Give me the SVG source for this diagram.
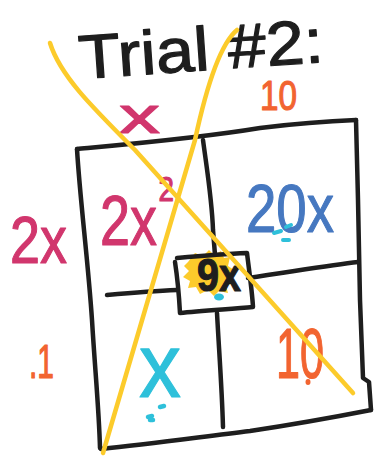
<svg xmlns="http://www.w3.org/2000/svg" width="375" height="456" viewBox="0 0 375 456">
<style>
.ink{fill:none;stroke:#1e1e1e;stroke-width:4.5;stroke-linecap:round;stroke-linejoin:round}
.hl{fill:none;stroke:#fccb2b;stroke-width:4.5;stroke-linecap:round;stroke-linejoin:round}
.t{font-family:"Liberation Sans",Arial,sans-serif;stroke-width:1.2;stroke-linejoin:round}
.mag{fill:#d1366d;stroke:#d1366d}
.org{fill:#f26430;stroke:#f26430}
.blu{fill:#4678c0;stroke:#4678c0}
.cy{fill:#2ec0da;stroke:#2ec0da}
.blk{fill:#1e1e1e;stroke:#1e1e1e}
</style>
<rect width="375" height="456" fill="#ffffff"/>
<g id="title">
<text class="t blk" x="80" y="79" font-size="62" textLength="245" lengthAdjust="spacingAndGlyphs" transform="rotate(-4 80 79)">Trial #2:</text>
</g>
<g id="grid">
<path class="ink" d="M77,149 C120,145 200,138 260,128 C300,123 330,121 356,120"/>
<path class="ink" d="M356,120 L358,200 L360,300 L363,378 L369,382 L371,410"/>
<path class="ink" d="M371,410 C330,418 290,425 250,431 C200,437 150,444 101,449"/>
<path class="ink" d="M77,149 C80,200 88,260 92,320 C95,370 99,410 100,448"/>
<path class="ink" d="M203,140 C207,170 212,200 213,230 L215,255"/>
<path class="ink" d="M217,313 C219,350 222,390 223,427"/>
<path class="ink" d="M107,295 C130,293 155,291 177,290"/>
<path class="ink" d="M248,278 C290,272 330,265 358,262"/>
</g>
<g id="center-box">
<path fill="#fccb2b" d="M188,262 L195,253 L203,256 L209,250 L214,255 L221,251 L224,258 L230,257 L228,266 L234,270 L228,276 L233,283 L226,286 L228,293 L219,291 L214,296 L208,290 L200,294 L196,287 L188,288 L190,281 L183,277 L189,271 L184,266 Z"/>
<path class="ink" d="M177,258 C200,256 225,254 247,253 C249,270 252,290 253,307 C230,309 200,311 180,313 C179,295 177,275 175,262"/>
<text class="t blk" x="197" y="291" font-size="46" font-weight="bold" textLength="44" lengthAdjust="spacingAndGlyphs">9x</text>
<ellipse fill="#2ec0da" cx="219" cy="297" rx="5" ry="3.5"/>
</g>
<g id="labels">
<text class="t mag" x="119" y="133" font-size="50" textLength="41" lengthAdjust="spacingAndGlyphs">x</text>
<text class="t org" x="260" y="110" font-size="42" textLength="37" lengthAdjust="spacingAndGlyphs">10</text>
<text class="t mag" x="10" y="263" font-size="66" textLength="57" lengthAdjust="spacingAndGlyphs">2x</text>
<text class="t mag" font-size="70" transform="translate(100 245) scale(0.77 1)">2x<tspan font-size="36" dx="2" dy="-44">2</tspan></text>
<text class="t blu" x="246" y="232" font-size="68" textLength="88" lengthAdjust="spacingAndGlyphs">20x</text>
<path d="M274,233 L281,231 M286,227 L291,225 M283,240 L289,240" fill="none" stroke="#2ec0da" stroke-width="4" stroke-linecap="round"/>
<text class="t org" x="29" y="378" font-size="48" textLength="25" lengthAdjust="spacingAndGlyphs">.1</text>
<text class="t cy" x="139" y="397" font-size="90" textLength="42" lengthAdjust="spacingAndGlyphs">x</text>
<path d="M160,407 L164,406 M148,417 L152,416 M150,420 L153,420" fill="none" stroke="#2ec0da" stroke-width="4.5" stroke-linecap="round"/>
<text class="t org" x="276" y="378" font-size="70" textLength="48" lengthAdjust="spacingAndGlyphs">10</text>
<ellipse fill="#f26430" cx="308" cy="382" rx="2.5" ry="3"/>
</g>
<g id="crossing-lines">
<path class="hl" d="M50,43 C60,75 90,105 135,150 L353,393"/>
<path class="hl" d="M237,30 C225,40 210,70 195,140 L103,453"/>
</g>
</svg>
